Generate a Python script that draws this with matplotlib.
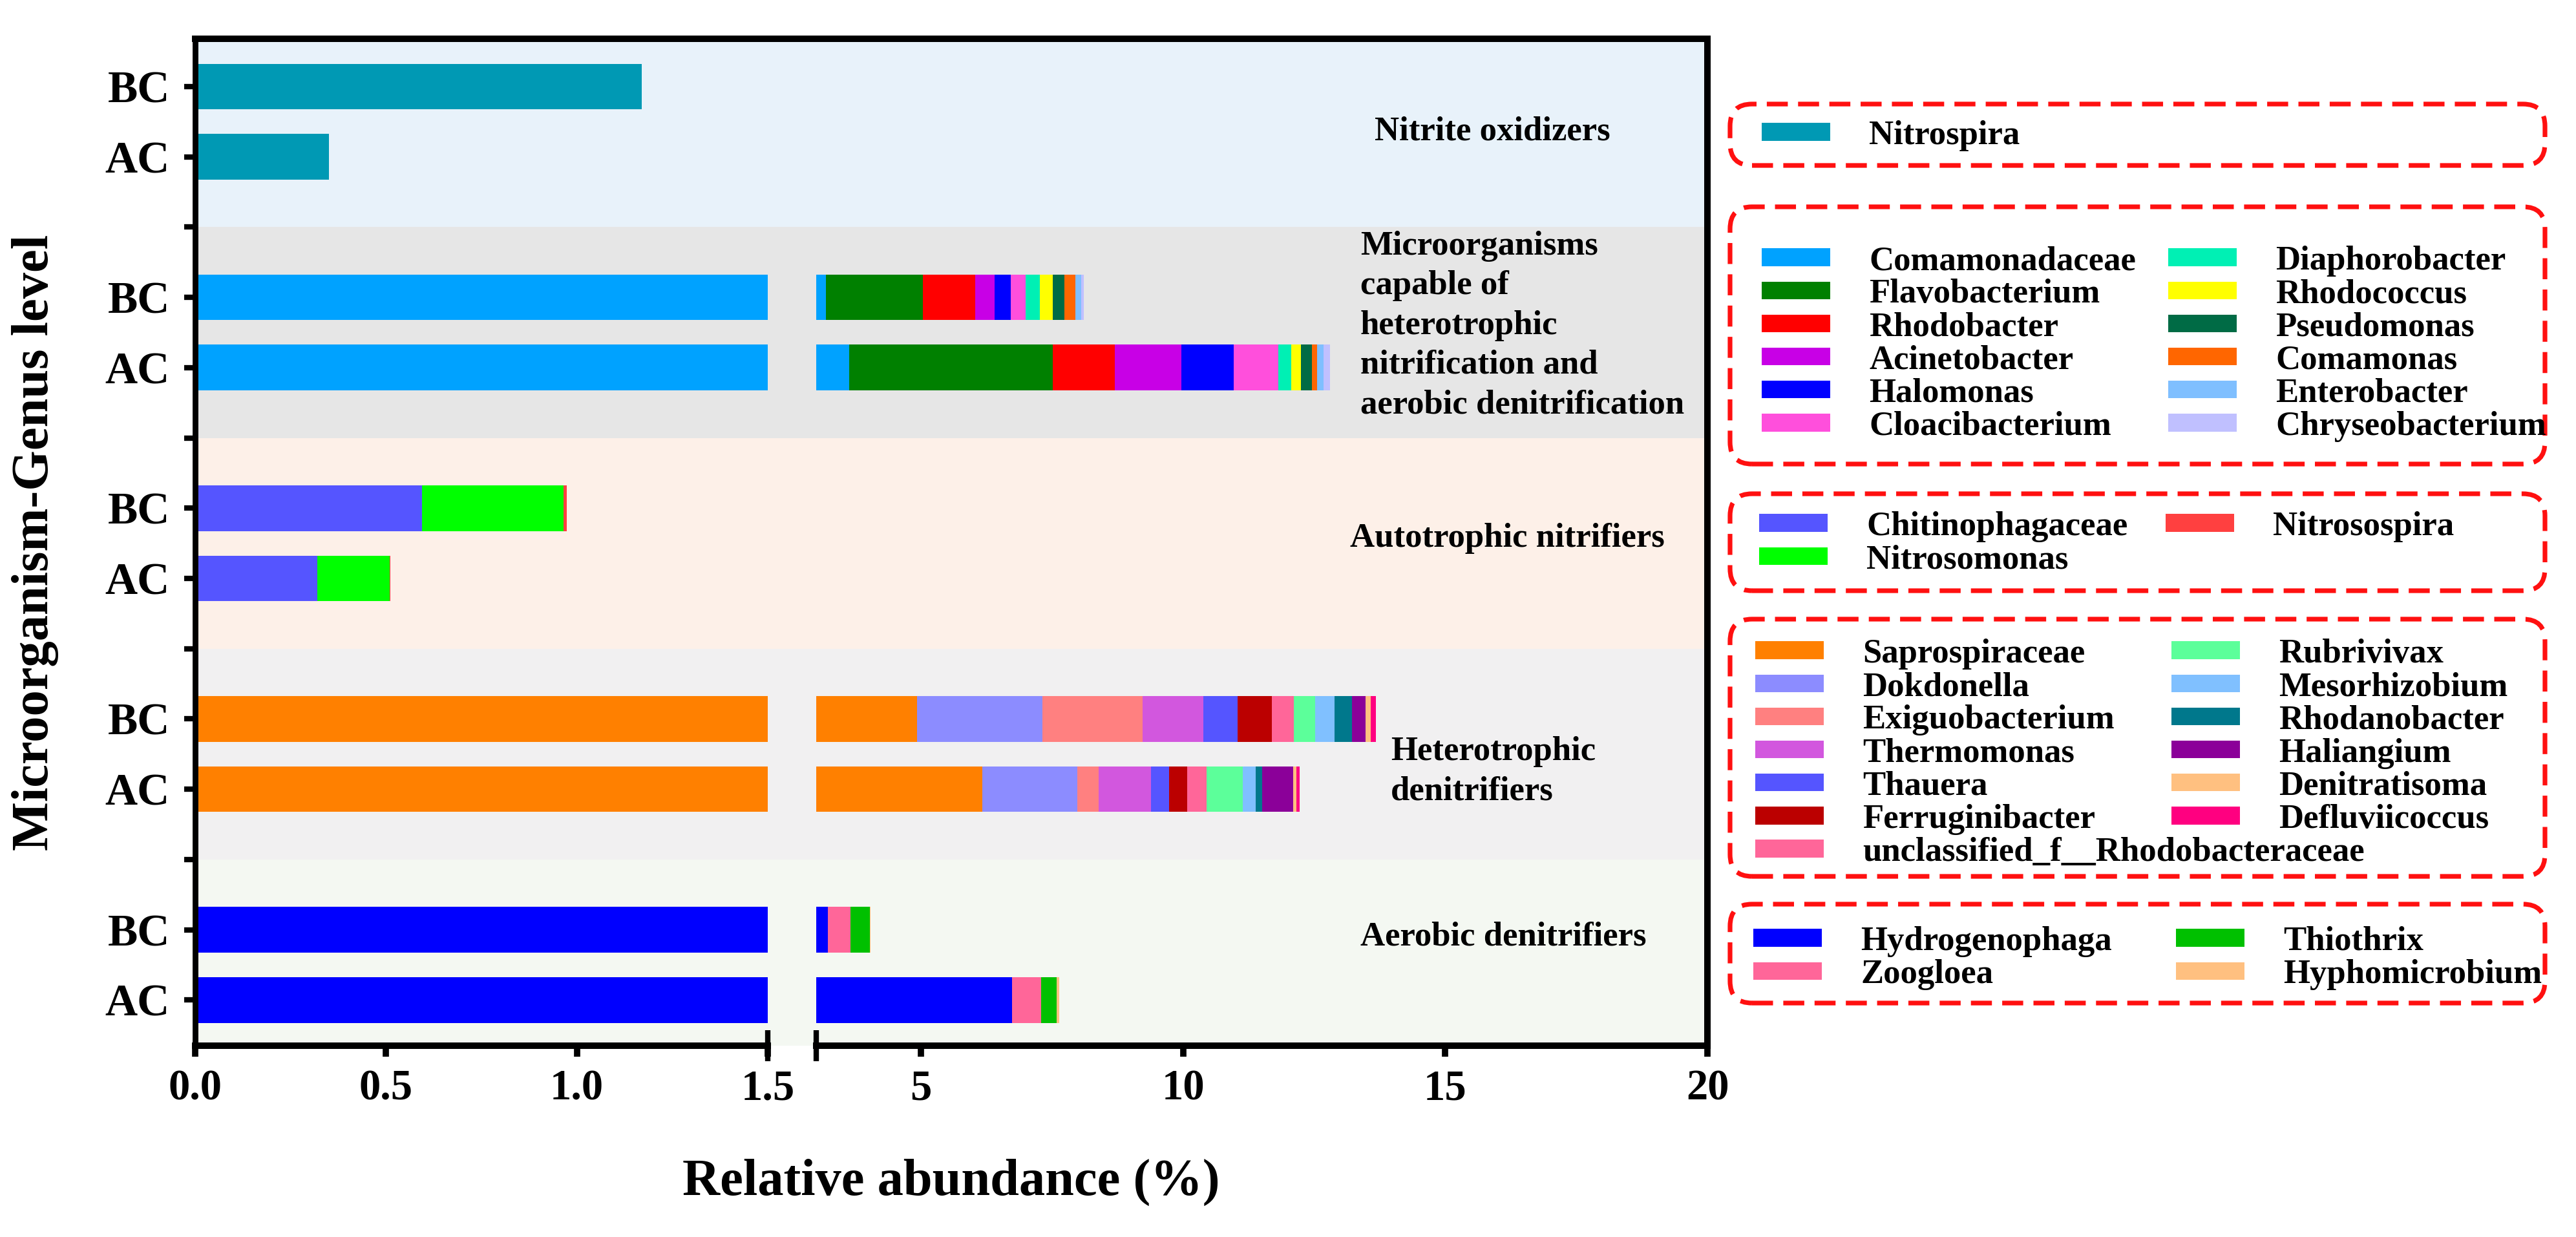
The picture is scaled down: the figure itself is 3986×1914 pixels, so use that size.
import matplotlib.pyplot as plt
from matplotlib.patches import Patch, FancyBboxPatch

plt.rcParams['font.family'] = ['Liberation Serif', 'DejaVu Serif']
plt.rcParams['font.weight'] = 'bold'
plt.rcParams['axes.labelweight'] = 'bold'

W, H, DPI = 3986, 1914, 200

# ---- data -------------------------------------------------------------
samples = ['BC', 'AC']

group_names = ['Nitrite oxidizers',
               'Microorganisms\ncapable of\nheterotrophic\nnitrification and\naerobic denitrification',
               'Autotrophic nitrifiers',
               'Heterotrophic\ndenitrifiers',
               'Aerobic denitrifiers']
band_colors = ['#E8F2FA', '#E6E6E6', '#FDF0E8', '#F1F0F1', '#F4F8F2']

nitrite_taxa = ['Nitrospira']
nitrite_colors = ['#0099B4']
nitrite_bc = [1.17]
nitrite_ac = [0.35]

hetnit_taxa = ['Comamonadaceae', 'Flavobacterium', 'Rhodobacter', 'Acinetobacter',
               'Halomonas', 'Cloacibacterium', 'Diaphorobacter', 'Rhodococcus',
               'Pseudomonas', 'Comamonas', 'Enterobacter', 'Chryseobacterium']
hetnit_colors = ['#00A2FF', '#008000', '#FF0000', '#C800E6', '#0000FF', '#FF4FDC',
                 '#00F0B4', '#FFFF00', '#006B45', '#FF6600', '#7FBFFF', '#C0C0FF']
hetnit_bc = [3.19, 1.84, 1.00, 0.37, 0.31, 0.29, 0.26, 0.25, 0.22, 0.21, 0.12, 0.04]
hetnit_ac = [3.63, 3.88, 1.19, 1.26, 1.00, 0.85, 0.25, 0.18, 0.22, 0.10, 0.12, 0.12]

auto_taxa = ['Chitinophagaceae', 'Nitrosomonas', 'Nitrosospira']
auto_colors = ['#5555FF', '#00FF00', '#FF4040']
auto_bc = [0.595, 0.37, 0.008]
auto_ac = [0.32, 0.19, 0.002]

hetden_taxa = ['Saprospiraceae', 'Dokdonella', 'Exiguobacterium', 'Thermomonas',
               'Thauera', 'Ferruginibacter', 'unclassified_f__Rhodobacteraceae',
               'Rubrivivax', 'Mesorhizobium', 'Rhodanobacter', 'Haliangium',
               'Denitratisoma', 'Defluviicoccus']
hetden_colors = ['#FF8000', '#8C8CFF', '#FF8080', '#D257DE', '#5555FF', '#BB0000',
                 '#FF6699', '#5CFF9A', '#80C0FF', '#00788C', '#8B0099', '#FFC080',
                 '#FF0080']
hetden_bc = [4.92, 2.39, 1.92, 1.15, 0.66, 0.65, 0.42, 0.41, 0.37, 0.33, 0.26, 0.10, 0.09]
hetden_ac = [6.17, 1.81, 0.41, 0.99, 0.35, 0.35, 0.36, 0.70, 0.24, 0.13, 0.59, 0.06, 0.06]

aero_taxa = ['Hydrogenophaga', 'Zoogloea', 'Thiothrix', 'Hyphomicrobium']
aero_colors = ['#0000FF', '#FF6699', '#00C000', '#FFC080']
aero_bc = [3.22, 0.43, 0.37, 0.02]
aero_ac = [6.74, 0.55, 0.30, 0.05]

left_ticks = [0, 0.5, 1.0, 1.5]
left_ticklabels = ['0.0', '0.5', '1.0', '1.5']
right_ticks = [5, 10, 15, 20]
right_ticklabels = ['5', '10', '15', '20']

groups = [
    (nitrite_taxa, nitrite_colors, nitrite_bc, nitrite_ac),
    (hetnit_taxa, hetnit_colors, hetnit_bc, hetnit_ac),
    (auto_taxa, auto_colors, auto_bc, auto_ac),
    (hetden_taxa, hetden_colors, hetden_bc, hetden_ac),
    (aero_taxa, aero_colors, aero_bc, aero_ac),
]
legend_split = [1, 6, 2, 7, 2]   # how many entries go in the first legend column

# ---- layout -----------------------------------------------------------
def rect(x0, y0, x1, y1):
    return [x0 / W, 1 - y1 / H, (x1 - x0) / W, (y1 - y0) / H]

fig = plt.figure(figsize=(W / DPI, H / DPI), dpi=DPI)
bg = fig.add_axes(rect(302, 60, 2642, 1618))
ax1 = fig.add_axes(rect(302, 60, 1188, 1618))
ax2 = fig.add_axes(rect(1263, 60, 2642, 1618))

ylim = (13.65, -0.68)
for ax in (bg, ax1, ax2):
    ax.set_ylim(ylim)
ax1.set_xlim(0, 1.5)
ax2.set_xlim(3, 20)
ax1.set_facecolor('none')
ax2.set_facecolor('none')

# background bands
for gi, col in enumerate(band_colors):
    bg.axhspan(3 * gi - 1, 3 * gi + 2, color=col, lw=0)
bg.set_xlim(0, 1)
bg.set_xticks([])
bg.set_yticks([])
for side in ('left', 'bottom'):
    bg.spines[side].set_visible(False)
for side in ('top', 'right'):
    bg.spines[side].set_linewidth(3.6)

# stacked bars, drawn in both halves of the broken axis
bar_h = 0.65
for gi, (taxa, colors, bc, ac) in enumerate(groups):
    for si, vals in enumerate([bc, ac]):
        y = 3 * gi + si
        left = 0
        for col, v in zip(colors, vals):
            for ax in (ax1, ax2):
                ax.barh(y, v, left=left, height=bar_h, color=col, lw=0)
            left += v

# axes decoration
for ax in (ax1, ax2):
    for side in ('top', 'right'):
        ax.spines[side].set_visible(False)
    ax.spines['bottom'].set_linewidth(3.6)
    ax.tick_params(axis='x', direction='out', length=6, width=3.5, labelsize=24, pad=7)
ax2.spines['left'].set_visible(False)
ax1.spines['left'].set_linewidth(3.2)

ax1.set_xticks(left_ticks)
ax1.set_xticklabels(left_ticklabels)
ax2.set_xticks(right_ticks)
ax2.set_xticklabels(right_ticklabels)

ytick_pos = []
ytick_lab = []
for gi in range(len(groups)):
    ytick_pos += [3 * gi, 3 * gi + 1]
    ytick_lab += samples
ax1.set_yticks(ytick_pos)
ax1.set_yticklabels(ytick_lab)
ax1.set_yticks([3 * gi + 2 for gi in range(len(groups) - 1)], minor=True)
ax1.tick_params(axis='y', which='both', direction='out', length=6, width=3, labelsize=25, pad=8)
ax2.tick_params(axis='y', which='both', left=False, labelleft=False)

# axis-break marks
for ax, xb in ((ax1, 1.0), (ax2, 0.0)):
    ax.plot([xb, xb], [-0.0154, 0.0154], transform=ax.transAxes, color='black',
            lw=3, clip_on=False, solid_capstyle='butt')

ax1.set_ylabel('Microorganism-Genus level', fontsize=29, fontweight='bold')
ax1.yaxis.set_label_coords(-0.238, 0.5)
bg.set_xlabel('Relative abundance (%)', fontsize=29, fontweight='bold')
bg.xaxis.set_label_coords(0.5, -0.136)
bg.xaxis.label.set_va('center')

# group labels
label_x = [13.65, 13.38, 13.18, 13.96, 13.38]
label_y = [0.64, 3.40, 6.43, 9.75, 12.10]
for name, lx, ly in zip(group_names, label_x, label_y):
    ax2.text(lx, ly, name, fontsize=19, ha='left', va='center', linespacing=1.36)

# legends in dashed rounded boxes
box_tops = [161, 320, 764, 958, 1399]
box_bottoms = [256, 718, 914, 1356, 1552]
row_first = [210, 404, 815, 1012, 1457]
col1_x = [2726, 2726, 2722, 2716, 2713]
col2_x = [3355, 3355, 3351, 3360, 3367]
box_x0, box_x1 = 2677, 3938
fs = 19
row_half = 24

for gi, (taxa, colors, bc, ac) in enumerate(groups):
    box = FancyBboxPatch((box_x0 / DPI, (H - box_bottoms[gi]) / DPI),
                         (box_x1 - box_x0) / DPI, (box_bottoms[gi] - box_tops[gi]) / DPI,
                         boxstyle='round,pad=0,rounding_size=0.17',
                         transform=fig.dpi_scale_trans, fill=False,
                         ec='#FF1010', lw=2.6, ls=(0, (4.5, 2.2)))
    fig.add_artist(box)
    handles = [Patch(facecolor=c, edgecolor='none') for c in colors]
    n1 = legend_split[gi]
    for idx, x in ((slice(0, n1), col1_x[gi]), (slice(n1, None), col2_x[gi])):
        hs = handles[idx]
        ls = taxa[idx]
        if not hs:
            continue
        fig.legend(hs, ls, loc='upper left',
                   bbox_to_anchor=(x / DPI, (H - row_first[gi] + row_half) / DPI),
                   bbox_transform=fig.dpi_scale_trans, frameon=False,
                   borderpad=0, borderaxespad=0, fontsize=fs,
                   handlelength=2.0, handleheight=0.42, handletextpad=1.15,
                   labelspacing=0.06)

fig.savefig('out.png', dpi=DPI, facecolor='white')
